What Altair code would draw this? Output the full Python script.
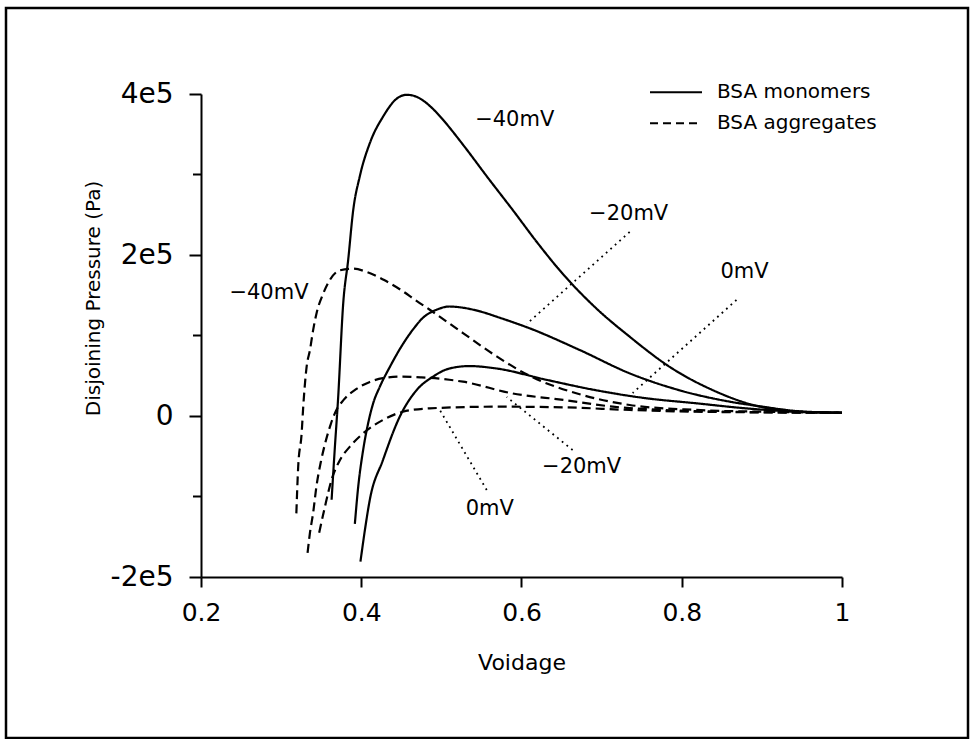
import altair as alt
import pandas as pd

# ---------------- data ----------------
# BSA monomers (solid lines)
MON_M40_V = [0.363, 0.367, 0.371, 0.3775, 0.3837, 0.39, 0.398, 0.4107, 0.4273, 0.444, 0.4565, 0.468,
             0.477, 0.49, 0.502, 0.527, 0.558, 0.589, 0.62, 0.652, 0.693, 0.735, 0.785, 0.839, 0.889, 0.943, 1.0]
MON_M40_P = [-1.04e5, -4.0e4, 2.0e4, 1.40e5, 1.94e5, 2.56e5, 2.97e5, 3.39e5, 3.72e5, 3.94e5, 3.99e5, 3.97e5,
             3.92e5, 3.81e5, 3.68e5, 3.37e5, 2.96e5, 2.56e5, 2.15e5, 1.76e5, 1.34e5, 9.85e4, 6.1e4, 3.2e4, 1.37e4, 5.3e3, 4.0e3]

MON_M20_V = [0.392, 0.3962, 0.4024, 0.4086, 0.4149, 0.4232, 0.4357, 0.4524, 0.465, 0.477, 0.494, 0.51, 0.527,
             0.548, 0.573, 0.61, 0.6726, 0.735, 0.797, 0.86, 0.901, 0.943, 1.0]
MON_M20_P = [-1.34e5, -8.8e4, -4.2e4, -9.0e3, 1.58e4, 3.64e4, 6.1e4, 9.0e4, 1.08e5, 1.22e5, 1.32e5, 1.36e5, 1.345e5,
             1.30e5, 1.22e5, 1.09e5, 8.2e4, 5.3e4, 3.2e4, 1.78e4, 1.16e4, 6.2e3, 4.0e3]

MON_0_V = [0.399, 0.4045, 0.4107, 0.427, 0.448, 0.469, 0.4897, 0.51, 0.535, 0.569, 0.631, 0.693,
           0.756, 0.818, 0.88, 0.94, 1.0]
MON_0_P = [-1.81e5, -1.42e5, -1.04e5, -5.5e4, -1.0e3, 3.2e4, 4.9e4, 5.9e4, 6.2e4, 5.9e4, 4.5e4, 3.2e4,
           2.2e4, 1.58e4, 9.5e3, 5.5e3, 4.0e3]

# BSA aggregates (dashed lines)
AGG_M40_V = [0.319, 0.3213, 0.3256, 0.3276, 0.3318, 0.336, 0.34, 0.3443, 0.3525, 0.3608, 0.3733, 0.39,
             0.4066, 0.4273, 0.4481, 0.469, 0.4855, 0.527, 0.569, 0.61, 0.6726, 0.735, 0.818, 0.901, 1.0]
AGG_M40_P = [-1.21e5, -6.3e4, -2.15e4, 1.16e4, 6.1e4, 8.2e4, 1.07e5, 1.28e5, 1.52e5, 1.69e5, 1.81e5, 1.83e5,
             1.79e5, 1.695e5, 1.575e5, 1.43e5, 1.32e5, 1.03e5, 7.4e4, 5.0e4, 2.7e4, 1.37e4, 7.5e3, 5.3e3, 4.0e3]

AGG_M20_V = [0.333, 0.336, 0.34, 0.344, 0.35, 0.356, 0.362, 0.369, 0.378, 0.393, 0.41, 0.427, 0.45,
             0.475, 0.51, 0.527, 0.589, 0.652, 0.714, 0.776, 0.86, 1.0]
AGG_M20_P = [-1.70e5, -1.45e5, -1.20e5, -8.8e4, -5.5e4, -3.0e4, -1.0e4, 7.5e3, 2.0e4, 3.3e4, 4.2e4, 4.7e4, 4.9e4,
             4.8e4, 4.5e4, 4.26e4, 2.8e4, 2.0e4, 1.16e4, 7.5e3, 5.3e3, 4.0e3]

AGG_0_V = [0.3475, 0.3546, 0.363, 0.3733, 0.3858, 0.4024, 0.427, 0.452, 0.4855, 0.569, 0.652, 0.735, 0.818, 1.0]
AGG_0_P = [-1.45e5, -1.13e5, -7.9e4, -5.5e4, -3.8e4, -2.15e4, -5.0e3, 5.3e3, 9.5e3, 1.16e4, 1.08e4, 7.5e3, 5.3e3, 4.0e3]

LEGEND_LABELS = ["BSA monomers", "BSA aggregates"]

# annotations (text at data positions) and leader lines
ANNOT_TEXT = ["−40mV", "−20mV", "0mV", "−40mV", "−20mV", "0mV"]
ANNOT_V = [0.5915, 0.7337, 0.8783, 0.2848, 0.675, 0.5604]
ANNOT_P = [3.68e5, 2.51e5, 1.79e5, 1.53e5, -6.3e4, -1.155e5]

LEADER_V1 = [0.735, 0.8683, 0.6638, 0.5566]
LEADER_P1 = [2.286e5, 1.441e5, -4.22e4, -9.19e4]
LEADER_V2 = [0.6065, 0.7387, 0.5815, 0.498]
LEADER_P2 = [1.143e5, 2.86e4, 2.36e4, 7.5e3]

X_TICKS = [0.2, 0.4, 0.6, 0.8, 1.0]
Y_MAJOR = [-2e5, 0, 2e5, 4e5]
Y_MINOR = [-1e5, 1e5, 3e5]

# ---------------- build tables ----------------
rows = []
for name, kind, vs, ps in [
    ("mon-40", LEGEND_LABELS[0], MON_M40_V, MON_M40_P),
    ("mon-20", LEGEND_LABELS[0], MON_M20_V, MON_M20_P),
    ("mon0", LEGEND_LABELS[0], MON_0_V, MON_0_P),
    ("agg-40", LEGEND_LABELS[1], AGG_M40_V, AGG_M40_P),
    ("agg-20", LEGEND_LABELS[1], AGG_M20_V, AGG_M20_P),
    ("agg0", LEGEND_LABELS[1], AGG_0_V, AGG_0_P),
]:
    for v, p in zip(vs, ps):
        rows.append({"v": v, "P": p, "series": name, "kind": kind})
curves_df = pd.DataFrame(rows)

annot_df = pd.DataFrame({"text": ANNOT_TEXT, "v": ANNOT_V, "P": ANNOT_P})
leader_df = pd.DataFrame({"v1": LEADER_V1, "p1": LEADER_P1, "v2": LEADER_V2, "p2": LEADER_P2})
minor_df = pd.DataFrame({"P": Y_MINOR})

x_scale = alt.Scale(domain=[0.2, 1.0], nice=False, zero=False)
y_scale = alt.Scale(domain=[-2e5, 4e5], nice=False, zero=False)

FONT = "DejaVu Sans"

x_axis = alt.Axis(
    values=X_TICKS, format="~g", title="Voidage", grid=False, labelFlush=False,
    domainColor="black", domainWidth=2, tickColor="black", tickWidth=2, tickSize=10,
    labelFont=FONT, labelFontSize=25, labelColor="black", labelPadding=13,
    titleFont=FONT, titleFontSize=22, titleFontWeight="normal", titleColor="black",
    titleX=320.5, titleY=85, titleAlign="center", titleBaseline="middle",
)
y_axis = alt.Axis(
    values=Y_MAJOR,
    labelExpr="datum.value == 0 ? '0' : (datum.value / 100000) + 'e5'",
    title="Disjoining Pressure (Pa)", grid=False, labelFlush=False,
    domainColor="black", domainWidth=2, tickColor="black", tickWidth=2, tickSize=12,
    labelFont=FONT, labelFontSize=28, labelColor="black", labelPadding=16,
    titleFont=FONT, titleFontSize=20, titleFontWeight="normal", titleColor="black",
    titleX=-108, titleY=204, titleAngle=270, titleAlign="center", titleBaseline="middle",
)

curves = alt.Chart(curves_df).mark_line(interpolate="monotone", strokeWidth=2.2, color="black").encode(
    x=alt.X("v:Q", scale=x_scale, axis=x_axis),
    y=alt.Y("P:Q", scale=y_scale, axis=y_axis),
    strokeDash=alt.StrokeDash("kind:N", scale=alt.Scale(domain=LEGEND_LABELS, range=[[1, 0], [9, 5]]), legend=None),
    detail="series:N",
)

minor_ticks = alt.Chart(minor_df).mark_rule(color="black", strokeWidth=2).encode(
    y=alt.Y("P:Q", scale=y_scale),
    x=alt.value(-8), x2=alt.value(0),
)

leaders = alt.Chart(leader_df).mark_rule(color="black", strokeWidth=1.8, strokeDash=[1.8, 4.2]).encode(
    x=alt.X("v1:Q", scale=x_scale), y=alt.Y("p1:Q", scale=y_scale),
    x2="v2:Q", y2="p2:Q",
)

annots = alt.Chart(annot_df).mark_text(font=FONT, fontSize=21, color="black", align="center", baseline="middle").encode(
    x=alt.X("v:Q", scale=x_scale), y=alt.Y("P:Q", scale=y_scale), text="text:N",
)

# manual legend
leg_layers = []
for i, (lab, dash) in enumerate(zip(LEGEND_LABELS, [[1, 0], [8, 5]])):
    ldf = pd.DataFrame({"label": [lab]})
    yy = -1.7 + i * 31
    leg_layers.append(
        alt.Chart(ldf).mark_rule(color="black", strokeWidth=2, strokeDash=dash).encode(
            x=alt.value(449), x2=alt.value(501), y=alt.value(yy))
    )
    leg_layers.append(
        alt.Chart(ldf).mark_text(font=FONT, fontSize=20, color="black", align="left", baseline="middle").encode(
            x=alt.value(516), y=alt.value(yy), text="label:N")
    )

frame = alt.Chart(pd.DataFrame({"f": [0]})).mark_rect(fill=None, stroke="black", strokeWidth=2.5).encode(
    x=alt.value(-195), x2=alt.value(767), y=alt.value(-86), y2=alt.value(644),
)

chart = alt.layer(frame, curves, minor_ticks, leaders, annots, *leg_layers).properties(
    width=641, height=483,
    padding={"left": 201, "top": 94, "right": 128, "bottom": 162},
    autosize=alt.AutoSizeParams(type="none"),
).configure(background="white").configure_view(strokeWidth=0, stroke=None)

chart.save("out.html", embed_options={"renderer": "svg", "actions": False})
